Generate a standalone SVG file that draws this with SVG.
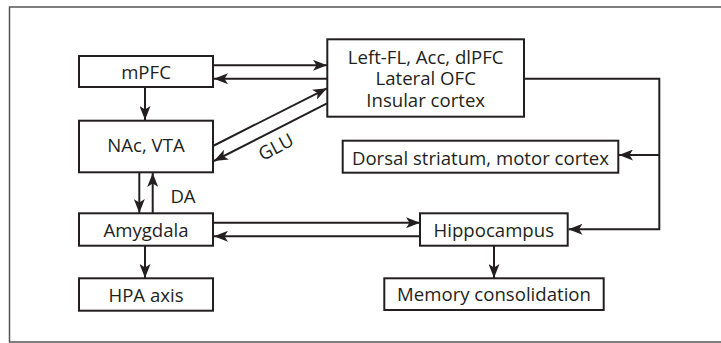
<svg xmlns="http://www.w3.org/2000/svg" width="721" height="343" viewBox="0 0 721 343">
<defs>
<marker id="ah" viewBox="0 0 14 11" refX="14" refY="5.5" markerWidth="14" markerHeight="11" markerUnits="userSpaceOnUse" orient="auto">
<path d="M0,0 L14,5.5 L0,11 L3.5,5.5 Z" fill="#231f20"/>
</marker>
<style>
.box{fill:#fff;stroke:#231f20;stroke-width:2}
.t{font-family:"Open Sans","Noto Sans",sans-serif;font-size:18.6px;fill:#231f20;text-anchor:middle}
.c{fill:none;stroke:#231f20;stroke-width:2}
.a{marker-end:url(#ah)}
</style>
</defs>
<rect x="9.5" y="7" width="720" height="335" fill="none" stroke="#555" stroke-width="1.5"/>
<g id="connectors">
<line class="c a" x1="213" y1="65.3" x2="327" y2="65.3"/>
<line class="c a" x1="327" y1="78.7" x2="214" y2="78.7"/>
<line class="c a" x1="145" y1="87" x2="145" y2="120"/>
<line class="c a" x1="213" y1="146" x2="327" y2="88.3"/>
<line class="c a" x1="327" y1="103.3" x2="214" y2="161"/>
<line class="c a" x1="139.3" y1="172.3" x2="139.3" y2="213"/>
<line class="c a" x1="152.7" y1="213.3" x2="152.7" y2="173"/>
<line class="c a" x1="213" y1="222.7" x2="420" y2="222.7"/>
<line class="c a" x1="420" y1="236.3" x2="214" y2="236.3"/>
<line class="c a" x1="145" y1="245.7" x2="145" y2="278"/>
<line class="c a" x1="494" y1="245.7" x2="494" y2="278"/>
<polyline class="c a" points="524,78.7 659.3,78.7 659.3,229.3 568.5,229.3"/>
<line class="c a" x1="659.3" y1="155" x2="619" y2="155"/>
<text class="t" x="276" y="153.5" transform="rotate(-28 276 147)">GLU</text>
<text class="t" x="183" y="202.5">DA</text>
</g>
<g id="mpfc"><rect class="box" x="79" y="56" width="134" height="31"/><text class="t" x="146" y="78.5">mPFC</text></g>
<g id="nac"><rect class="box" x="79" y="120.7" width="134" height="51.6"/><text class="t" x="146" y="152">NAc, VTA</text></g>
<g id="amygdala"><rect class="box" x="79" y="213.3" width="134" height="32.4"/><text class="t" x="146" y="236.5">Amygdala</text></g>
<g id="hpa"><rect class="box" x="79" y="278.3" width="134" height="32.4"/><text class="t" x="146" y="301.5">HPA axis</text></g>
<g id="leftfl"><rect class="box" x="327.3" y="39.3" width="196.7" height="77.4"/>
<text class="t"><tspan x="425.7" y="63.5">Left-FL, Acc, dlPFC</tspan><tspan x="425.7" y="85">Lateral OFC</tspan><tspan x="425.7" y="106.5">Insular cortex</tspan></text></g>
<g id="dorsal"><rect class="box" x="342.7" y="140.7" width="275.6" height="32"/><text class="t" x="480.5" y="165">Dorsal striatum, motor cortex</text></g>
<g id="hippocampus"><rect class="box" x="420" y="213.3" width="147.7" height="32.4"/><text class="t" x="493.8" y="236.5">Hippocampus</text></g>
<g id="memory"><rect class="box" x="384.3" y="278.3" width="219.4" height="31.7"/><text class="t" x="494" y="301">Memory consolidation</text></g>
</svg>
